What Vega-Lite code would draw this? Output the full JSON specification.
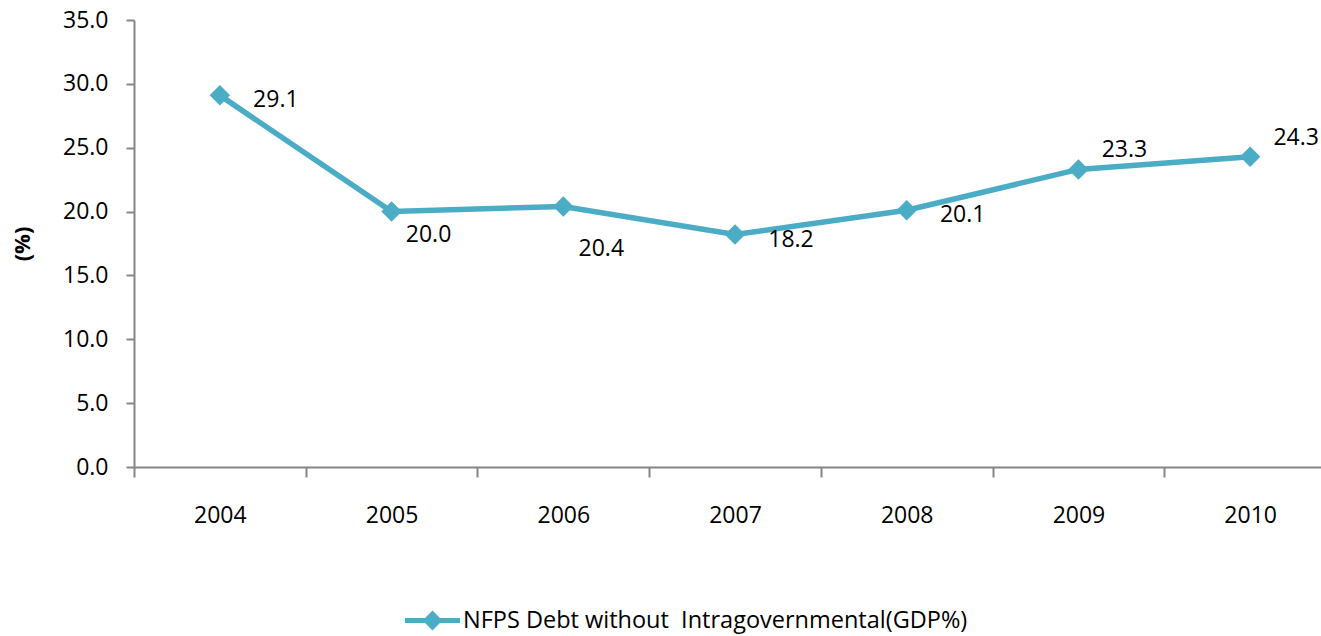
{
  "$schema": "https://vega.github.io/schema/vega-lite/v6.json",
  "autosize": {"type": "none"},
  "width": 1187,
  "height": 447,
  "padding": {"left": 134, "top": 20, "right": 0, "bottom": 169},
  "background": "white",
  "config": {
    "view": {"stroke": null},
    "font": "Open Sans",
    "axis": {
      "domainColor": "#868686",
      "domainWidth": 2,
      "tickColor": "#868686",
      "tickWidth": 2,
      "labelFont": "Open Sans",
      "labelFontSize": 23,
      "labelColor": "#000000",
      "grid": false
    }
  },
  "data": {
    "values": [
      {"year": "2004", "debt": 29.1},
      {"year": "2005", "debt": 20.0},
      {"year": "2006", "debt": 20.4},
      {"year": "2007", "debt": 18.2},
      {"year": "2008", "debt": 20.1},
      {"year": "2009", "debt": 23.3},
      {"year": "2010", "debt": 24.3}
    ]
  },
  "encoding": {
    "x": {
      "field": "year",
      "type": "ordinal",
      "scale": {"range": [0, 1202], "paddingInner": 0, "paddingOuter": 0},
      "axis": {
        "title": null,
        "labelAngle": 0,
        "tickBand": "extent",
        "tickSize": 10,
        "labelPadding": 27
      }
    },
    "y": {
      "field": "debt",
      "type": "quantitative",
      "scale": {"domain": [0, 35], "nice": false},
      "axis": {
        "values": [0, 5, 10, 15, 20, 25, 30, 35],
        "format": ".1f",
        "title": "(%)",
        "titleFont": "Open Sans",
        "titleFontSize": 22,
        "titleFontWeight": "bold",
        "titleColor": "#000000",
        "titlePadding": 28,
        "tickSize": 8,
        "labelPadding": 18
      }
    }
  },
  "layer": [
    {
      "mark": {"type": "line", "stroke": "#4BACC6", "strokeWidth": 5.5}
    },
    {
      "mark": {"type": "point", "shape": "diamond", "filled": true, "size": 420, "opacity": 1},
      "encoding": {
        "color": {
          "datum": "NFPS Debt without \u00a0Intragovernmental(GDP%)",
          "scale": {"range": ["#4BACC6"]},
          "legend": {
            "title": null,
            "orient": "none",
            "legendX": 271,
            "legendY": 573,
            "symbolType": "M-1,-0.09H1V0.09H-1Z M0,-0.36L0.36,0L0,0.36L-0.36,0Z",
            "symbolSize": 3025,
            "symbolStrokeWidth": 0,
            "symbolOpacity": 1,
            "labelFont": "Open Sans",
            "labelFontSize": 23.5,
            "labelColor": "#000000",
            "labelLimit": 0,
            "labelOffset": 3
          }
        }
      }
    },
    {
      "transform": [{"filter": "datum.year == '2004' || datum.year == '2007' || datum.year == '2008'"}],
      "mark": {"type": "text", "fontSize": 23, "font": "Open Sans", "color": "#000000", "dx": 56, "dy": 5},
      "encoding": {"text": {"field": "debt", "type": "quantitative", "format": ".1f"}}
    },
    {
      "transform": [{"filter": "datum.year == '2005'"}],
      "mark": {"type": "text", "fontSize": 23, "font": "Open Sans", "color": "#000000", "dx": 37, "dy": 23},
      "encoding": {"text": {"field": "debt", "type": "quantitative", "format": ".1f"}}
    },
    {
      "transform": [{"filter": "datum.year == '2006'"}],
      "mark": {"type": "text", "fontSize": 23, "font": "Open Sans", "color": "#000000", "dx": 38, "dy": 43},
      "encoding": {"text": {"field": "debt", "type": "quantitative", "format": ".1f"}}
    },
    {
      "transform": [{"filter": "datum.year == '2009' || datum.year == '2010'"}],
      "mark": {"type": "text", "fontSize": 23, "font": "Open Sans", "color": "#000000", "dx": 46, "dy": -19},
      "encoding": {"text": {"field": "debt", "type": "quantitative", "format": ".1f"}}
    }
  ]
}
